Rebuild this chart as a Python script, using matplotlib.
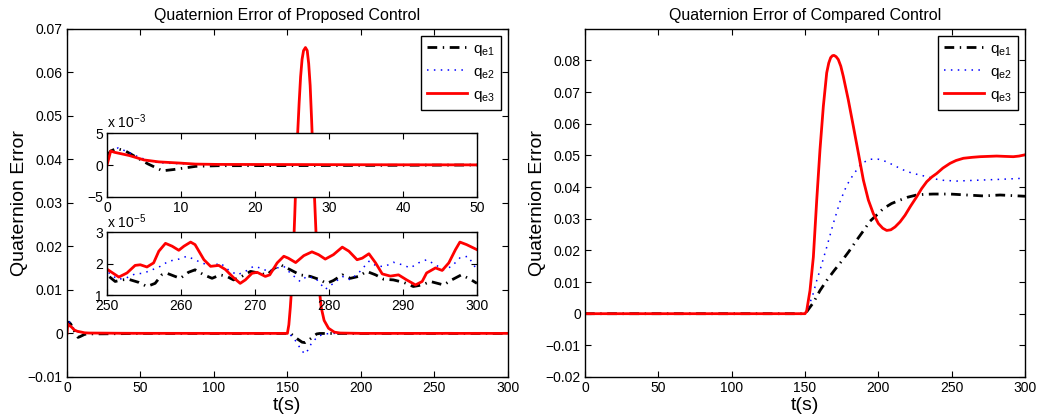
import matplotlib

matplotlib.use("Agg")
import matplotlib.pyplot as plt
from matplotlib.ticker import FuncFormatter

plt.rcParams["font.family"] = ["Liberation Sans", "DejaVu Sans"]
plt.rcParams["mathtext.fontset"] = "custom"
plt.rcParams["mathtext.rm"] = "Liberation Sans"

# ---- proposed control (left panel, shared by both insets) ----
t_prop_e1 = [0, 0.5, 1.3, 2.5, 4, 5.5, 7.5, 9, 10.8, 12, 15, 25, 35, 50, 100, 150,
             152, 154, 157, 160, 162, 165, 168, 170, 172, 200,
             250, 251.1, 252, 252.9, 254.3, 255.4, 256.5, 257.4, 258.1, 259.2, 259.9,
             261, 261.9, 263.1, 264.2, 265.3, 266.2, 267.1, 268.2, 269.4, 270.7,
             271.6, 272.7, 273.6, 274.8, 276.1, 277.5, 278.6, 279.7, 280.6, 281.8,
             282.9, 284, 285.1, 286.3, 287.4, 288.7, 290.1, 291.4, 292.6, 293.7,
             295.5, 296.6, 297.9, 299.1, 300]
q_prop_e1 = [0.0015, 0.0022, 0.0026, 0.0022, 0.0012, 0.0002, -0.0009, -0.0007, -0.0004,
             -0.0002, -0.0001, -0.00008, -0.00005, 0.00001, 0.000015, 0.000015,
             0.0, -0.0005, -0.0013, -0.002, -0.0021, -0.0014, -0.0006, -0.0001, 0.0,
             0.000015,
             1.64e-5, 1.43e-5, 1.48e-5, 1.50e-5, 1.40e-5, 1.27e-5, 1.37e-5, 1.64e-5,
             1.69e-5, 1.59e-5, 1.53e-5, 1.72e-5, 1.80e-5, 1.64e-5, 1.53e-5, 1.64e-5,
             1.59e-5, 1.48e-5, 1.59e-5, 1.75e-5, 1.69e-5, 1.64e-5, 1.86e-5, 1.94e-5,
             1.80e-5, 1.64e-5, 1.59e-5, 1.50e-5, 1.37e-5, 1.46e-5, 1.64e-5, 1.53e-5,
             1.59e-5, 1.75e-5, 1.64e-5, 1.50e-5, 1.48e-5, 1.40e-5, 1.27e-5, 1.32e-5,
             1.43e-5, 1.32e-5, 1.48e-5, 1.64e-5, 1.50e-5, 1.37e-5]

t_prop_e2 = [0, 0.5, 1.5, 2.5, 4, 6, 8, 10, 15, 35, 50, 100, 150,
             152, 155, 158, 160.5, 162, 164, 166, 169, 172, 176, 180, 200,
             250, 251.4, 252.5, 253.8, 254.9, 256.1, 257.2, 258.3, 259.7, 260.8,
             261.7, 262.8, 264.2, 265.3, 266.4, 267.6, 268.7, 269.8, 270.7, 271.8,
             273, 273.9, 274.8, 276.1, 277, 278.2, 279.5, 280.6, 281.8, 282.9,
             284.2, 285.4, 286.5, 287.6, 288.7, 289.9, 291, 292.1, 293.2, 294.4,
             295.5, 296.6, 297.7, 298.8, 300]
q_prop_e2 = [0.0012, 0.002, 0.0027, 0.0022, 0.0014, 0.0005, 0.0003, 0.0002, 0.00005,
             0.00003, 0.00002, 0.00002, 0.00002,
             -0.0003, -0.0014, -0.003, -0.0042, -0.0047, -0.0038, -0.0025, -0.0013,
             -0.0005, -0.0001, 0.00002, 0.00002,
             1.75e-5, 1.50e-5, 1.53e-5, 1.67e-5, 1.69e-5, 1.80e-5, 1.91e-5, 2.07e-5,
             2.14e-5, 2.23e-5, 2.14e-5, 2.02e-5, 1.91e-5, 2.02e-5, 1.80e-5, 1.64e-5,
             1.75e-5, 1.91e-5, 1.86e-5, 1.75e-5, 1.86e-5, 1.91e-5, 1.69e-5, 1.43e-5,
             1.59e-5, 1.53e-5, 1.18e-5, 1.37e-5, 1.59e-5, 1.48e-5, 1.75e-5, 2.07e-5,
             1.91e-5, 1.91e-5, 2.04e-5, 1.96e-5, 1.86e-5, 2.02e-5, 2.12e-5, 1.96e-5,
             1.80e-5, 1.91e-5, 2.18e-5, 2.23e-5, 1.80e-5]

t_prop_e3 = [0, 0.5, 1, 3, 5, 7, 10, 12, 15, 25, 35, 50, 100, 150,
             151, 152, 153, 154, 155, 156, 157, 158, 159, 160, 161, 162.3, 163.5,
             164.5, 165.5, 166.5, 167.5, 168.5, 169.5, 170.5, 171.5, 173, 175, 178,
             182, 186, 200,
             250, 251.6, 252.7, 253.8, 254.5, 255.4, 256.3, 257, 257.9, 258.8, 259.7,
             260.4, 261.3, 261.9, 263.1, 264, 265.1, 266, 267.1, 268, 268.7, 269.6,
             270.3, 271.4, 272, 273, 273.9, 274.5, 275.5, 276.6, 277.7, 278.6, 279.5,
             280.6, 281.8, 282.7, 283.8, 284.5, 285.4, 286.3, 287.2, 288.3, 289.4,
             290.5, 291.7, 292.6, 293.2, 294.4, 295.3, 296.2, 297.1, 297.7, 298.6, 300]
q_prop_e3 = [0.0, 0.0022, 0.002, 0.0015, 0.0008, 0.0005, 0.0003, 0.00015, 0.0001,
             0.00008, 0.00005, 0.00003, 0.00002, 0.00002,
             0.002, 0.006, 0.011, 0.018, 0.027, 0.037, 0.046, 0.053, 0.059, 0.063,
             0.065, 0.0657, 0.065, 0.062, 0.057, 0.049, 0.040, 0.031, 0.023, 0.016,
             0.011, 0.006, 0.003, 0.0012, 0.0003, 0.0001, 0.00002,
             1.82e-5, 1.57e-5, 1.70e-5, 1.94e-5, 1.96e-5, 1.89e-5, 2.02e-5, 2.39e-5,
             2.64e-5, 2.55e-5, 2.42e-5, 2.55e-5, 2.68e-5, 2.60e-5, 2.12e-5, 1.91e-5,
             1.94e-5, 1.81e-5, 1.55e-5, 1.37e-5, 1.48e-5, 1.69e-5, 1.72e-5, 1.59e-5,
             1.64e-5, 2.02e-5, 2.23e-5, 2.17e-5, 2.03e-5, 2.25e-5, 2.37e-5, 2.28e-5,
             2.14e-5, 2.28e-5, 2.52e-5, 2.39e-5, 2.12e-5, 2.17e-5, 2.31e-5, 2.02e-5,
             1.67e-5, 1.60e-5, 1.64e-5, 1.48e-5, 1.32e-5, 1.43e-5, 1.70e-5, 1.86e-5,
             1.78e-5, 2.02e-5, 2.44e-5, 2.68e-5, 2.60e-5, 2.44e-5]

# ---- compared control (right panel) ----
t_comp_e1 = [0, 150, 151, 153, 155.7, 160.2, 164.8, 170, 175, 180, 185.2, 190,
             194.3, 198.9, 203.4, 209, 214.8, 220, 226.1, 231, 237.5, 248.9, 260.2,
             271.6, 283, 300]
q_comp_e1 = [0, 0, 0.0005, 0.0018, 0.0035, 0.0073, 0.0105, 0.0137, 0.0166, 0.0197,
             0.0232, 0.0263, 0.0292, 0.0312, 0.0332, 0.0348, 0.0359, 0.0368, 0.0375,
             0.0377, 0.0378, 0.0378, 0.0375, 0.0372, 0.0375, 0.0371]

t_comp_e2 = [0, 150, 152.3, 155.7, 158, 160.2, 164.8, 169.3, 173.8, 178.4, 183,
             188.6, 194.3, 200, 205.7, 210, 214.8, 219, 223.9, 233, 242, 253.4,
             269.4, 280.7, 300]
q_comp_e2 = [0, 0, 0.002, 0.0065, 0.0105, 0.0137, 0.021, 0.0285, 0.0353, 0.0405,
             0.0440, 0.0475, 0.0488, 0.0488, 0.0480, 0.0470, 0.0459, 0.0450, 0.0443,
             0.0433, 0.0422, 0.0419, 0.0422, 0.0424, 0.0428]

t_comp_e3 = [0, 150, 151.1, 153.4, 155.7, 158, 160.2, 162.5, 164.8, 166.2, 167.5,
             168.7, 169.8, 171.2, 172.7, 174.4, 176.1, 179.5, 183, 186.4, 189.8,
             193.2, 196.6, 200, 203, 205.7, 208.5, 211.4, 214.8, 218.2, 222, 226.1,
             229.5, 233, 236.5, 239.8, 244, 248.9, 253, 258, 264, 269.4, 275, 280.7,
             286, 292, 296, 300]
q_comp_e3 = [0, 0, 0.0008, 0.0073, 0.0179, 0.0359, 0.0517, 0.0655, 0.0761, 0.0792,
             0.0809, 0.0815, 0.0816, 0.0812, 0.0803, 0.0782, 0.0750, 0.0676, 0.0591,
             0.0507, 0.0422, 0.0359, 0.0316, 0.0285, 0.0270, 0.0263, 0.0265, 0.0274,
             0.0290, 0.0311, 0.0340, 0.0369, 0.0395, 0.0417, 0.0432, 0.0443, 0.0460,
             0.0475, 0.0484, 0.0491, 0.0494, 0.0496, 0.0497, 0.0498, 0.0497, 0.0496,
             0.0498, 0.0502]

legend_labels = [r"$\mathregular{q_{e1}}$", r"$\mathregular{q_{e2}}$",
                 r"$\mathregular{q_{e3}}$"]

TICK_SIZE = 10
LABEL_SIZE = 14
TITLE_SIZE = 11.5


def matlab_style(ax, size=TICK_SIZE):
    ax.tick_params(direction="in", top=True, right=True, length=4,
                   width=0.8, labelsize=size, pad=3)
    for spine in ax.spines.values():
        spine.set_linewidth(1.0)


def draw_lines(ax, series):
    (t1, q1), (t2, q2), (t3, q3) = series
    ax.plot(t1, q1, color="black", linestyle=(0, (3.5, 2.0, 0.5, 2.0)),
            linewidth=2.0, label=legend_labels[0])
    ax.plot(t2, q2, color="blue", linestyle=(0, (1.0, 3.5)), linewidth=1.1,
            label=legend_labels[1])
    ax.plot(t3, q3, color="red", linestyle="-", linewidth=2.0,
            label=legend_labels[2])


def scaled(power):
    factor = 10.0 ** power
    return FuncFormatter(lambda v, p: f"{v * factor:g}".replace("-", "\u2212"))


fig = plt.figure(figsize=(10.42, 4.2), dpi=100)

prop = [(t_prop_e1, q_prop_e1), (t_prop_e2, q_prop_e2), (t_prop_e3, q_prop_e3)]
comp = [(t_comp_e1, q_comp_e1), (t_comp_e2, q_comp_e2), (t_comp_e3, q_comp_e3)]

plain = FuncFormatter(
    lambda v, p: f"{v:.2f}".rstrip("0").rstrip(".").replace("-", "\u2212")
    if abs(v) > 1e-12 else "0")

# left panel
ax_l = fig.add_axes([0.0643, 0.1024, 0.423, 0.829])
draw_lines(ax_l, prop)
ax_l.set_xlim(0, 300)
ax_l.set_ylim(-0.01, 0.07)
ax_l.set_xticks(range(0, 301, 50))
ax_l.set_yticks([-0.01, 0, 0.01, 0.02, 0.03, 0.04, 0.05, 0.06, 0.07])
ax_l.yaxis.set_major_formatter(plain)
ax_l.set_title("Quaternion Error of Proposed Control", fontsize=TITLE_SIZE, pad=6)
ax_l.set_xlabel("t(s)", fontsize=LABEL_SIZE, labelpad=1)
ax_l.set_ylabel("Quaternion Error", fontsize=LABEL_SIZE, labelpad=0)
matlab_style(ax_l)

legend_kw = dict(loc="upper right", fancybox=False, edgecolor="black",
                 framealpha=1, fontsize=TICK_SIZE + 1, handlelength=2.6,
                 handletextpad=0.4, labelspacing=0.45, borderaxespad=0.45,
                 borderpad=0.4)
leg = ax_l.legend(**legend_kw)
leg.get_frame().set_linewidth(1.0)

# inset: first 50 seconds
ax_i1 = fig.add_axes([0.1027, 0.531, 0.355, 0.152])
draw_lines(ax_i1, prop)
ax_i1.set_xlim(0, 50)
ax_i1.set_ylim(-0.005, 0.005)
ax_i1.set_xticks(range(0, 51, 10))
ax_i1.set_yticks([-0.005, 0, 0.005])
ax_i1.yaxis.set_major_formatter(scaled(3))
ax_i1.text(0, 1.03, r"x 10$^{-3}$", transform=ax_i1.transAxes,
           ha="left", va="bottom", fontsize=TICK_SIZE)
matlab_style(ax_i1)

# inset: last 50 seconds
ax_i2 = fig.add_axes([0.1027, 0.2976, 0.355, 0.15])
draw_lines(ax_i2, prop)
ax_i2.set_xlim(250, 300)
ax_i2.set_ylim(1e-5, 3e-5)
ax_i2.set_xticks(range(250, 301, 10))
ax_i2.set_yticks([1e-5, 2e-5, 3e-5])
ax_i2.yaxis.set_major_formatter(scaled(5))
ax_i2.text(0, 1.01, r"x 10$^{-5}$", transform=ax_i2.transAxes,
           ha="left", va="bottom", fontsize=TICK_SIZE)
matlab_style(ax_i2)

# right panel
ax_r = fig.add_axes([0.5614, 0.1024, 0.4223, 0.829])
draw_lines(ax_r, comp)
ax_r.set_xlim(0, 300)
ax_r.set_ylim(-0.02, 0.09)
ax_r.set_xticks(range(0, 301, 50))
ax_r.set_yticks([-0.02, -0.01, 0, 0.01, 0.02, 0.03, 0.04, 0.05, 0.06, 0.07, 0.08])
ax_r.yaxis.set_major_formatter(plain)
ax_r.set_title("Quaternion Error of Compared Control", fontsize=TITLE_SIZE, pad=6)
ax_r.set_xlabel("t(s)", fontsize=LABEL_SIZE, labelpad=1)
ax_r.set_ylabel("Quaternion Error", fontsize=LABEL_SIZE, labelpad=0)
matlab_style(ax_r)
leg = ax_r.legend(**legend_kw)
leg.get_frame().set_linewidth(1.0)

fig.savefig("out.png", dpi=100)
